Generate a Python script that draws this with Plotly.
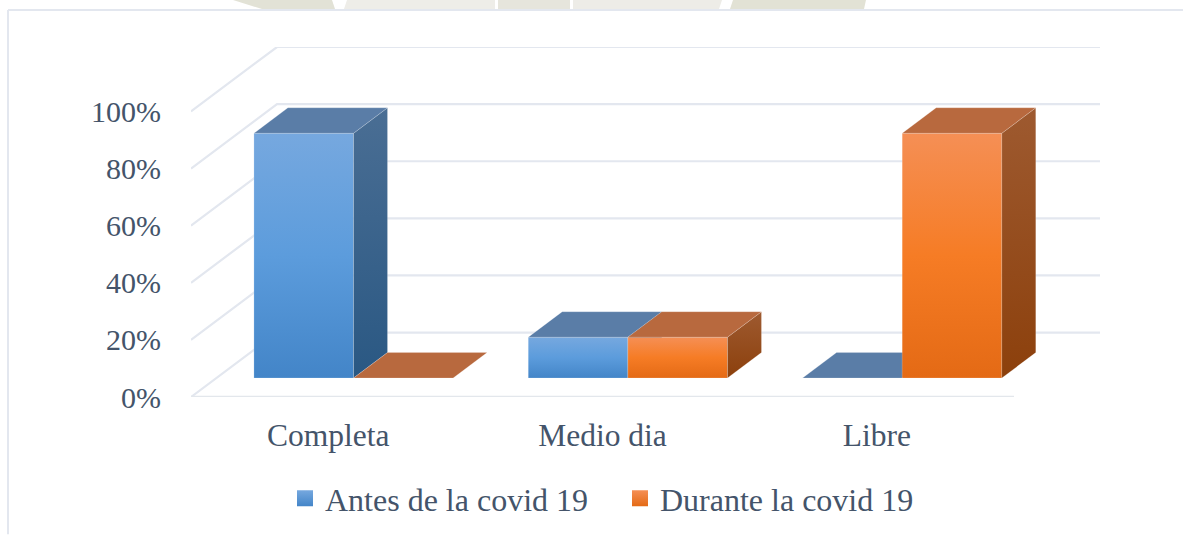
import plotly.graph_objects as go

# ---- data ----
categories = ["Completa", "Medio dia", "Libre"]
antes = [85.7, 14.3, 0]
durante = [0, 14.3, 85.7]
y_ticks = [0, 20, 40, 60, 80, 100]
y_labels = ["0%", "20%", "40%", "60%", "80%", "100%"]
series_names = ["Antes de la covid 19", "Durante la covid 19"]

# ---- styling ----
TEXT = "#44546A"
GRID = "#E3E7EF"
FONT = "Liberation Serif"
W, H = 1183, 535
L, R, T, B = 191, 1100, 47, 397.5
PX_X = 274.3          # px per category
PX_Y = 2.86           # px per percent
DEPTH_X = 86 / PX_X   # oblique offset of the back wall, in axis units
DEPTH_Y = 64.5 / PX_Y
NEAR, FAR = 0.295, 0.69   # bars occupy this slice of the floor depth
BAR_W = 99.6 / PX_X

STYLE = {
    0: dict(front=["#76A8DF", "#5C9CDC", "#4385C8"], top="#5A7DA7",
            side=["#4A6E94", "#2A5883"]),
    1: dict(front=["#F58F55", "#F67C25", "#E46A15"], top="#B8693E",
            side=["#9E5A30", "#8C400C"]),
}


def gradient(colors):
    n = len(colors) - 1
    # plotly's vertical gradient runs from the bottom of the shape up
    return dict(type="vertical",
                colorscale=[[i / n, c] for i, c in enumerate(reversed(colors))])


def face(fig, xs, ys, name, **kw):
    fig.add_trace(go.Scatter(
        x=xs + xs[:1], y=ys + ys[:1], mode="lines", fill="toself", name=name,
        line=dict(width=1, color="rgba(255,255,255,0.18)"),
        hoverinfo="skip", showlegend=False, cliponaxis=False, **kw))


fig = go.Figure()

# oblique walls: gridlines derived from the axis ticks
x_left, x_right = -0.5, len(categories) - 0.5
for v in y_ticks:
    fig.add_trace(go.Scatter(
        x=[x_left, x_left + DEPTH_X, x_right + DEPTH_X],
        y=[v, v + DEPTH_Y, v + DEPTH_Y], mode="lines",
        line=dict(color=GRID, width=2.2), hoverinfo="skip",
        showlegend=False, cliponaxis=False))
fig.add_trace(go.Scatter(
    x=[x_left, x_right], y=[0, 0], mode="lines",
    line=dict(color="#E3E7EC", width=2.6), hoverinfo="skip",
    showlegend=False, cliponaxis=False))

# 3D bars, projected from the values
for s, values in enumerate([antes, durante]):
    st = STYLE[s]
    for i, v in enumerate(values):
        x0 = i + NEAR * DEPTH_X + (s - 1) * BAR_W
        x1 = x0 + BAR_W
        y0 = NEAR * DEPTH_Y
        dx = (FAR - NEAR) * DEPTH_X
        dy = (FAR - NEAR) * DEPTH_Y
        if v > 0:
            face(fig, [x0, x1, x1, x0], [y0, y0, y0 + v, y0 + v],
                 series_names[s], fillgradient=gradient(st["front"]))
            face(fig, [x1, x1 + dx, x1 + dx, x1],
                 [y0, y0 + dy, y0 + dy + v, y0 + v],
                 series_names[s], fillgradient=gradient(st["side"]))
        face(fig, [x0, x1, x1 + dx, x0 + dx],
             [y0 + v, y0 + v, y0 + v + dy, y0 + v + dy],
             series_names[s], fillcolor=st["top"])

# legend entries
for s, name in enumerate(series_names):
    c = STYLE[s]["front"]
    fig.add_trace(go.Scatter(
        x=[None], y=[None], mode="markers", name=name,
        marker=dict(symbol="square", size=17, color=c[0],
                    gradient=dict(type="vertical", color=c[2]))))


# frame of the chart and the background scrap above it
def px(x):
    return (x - L) / (R - L)


def py(y):
    return (B - y) / (B - T)


scraps = [
    ([233, 332, 335, 262], "#E2E2D6"),
    ([347, 495, 495, 344], "#EEEDE8"),
    ([498, 570, 570, 498], "#E6E5DC"),
    ([573, 722, 719, 573], "#EDECE7"),
    ([733, 866, 864, 730], "#E2E2D5"),
]
shapes = [
    dict(type="path", xref="paper", yref="paper", layer="below",
         path=f"M{px(a)},{py(0)} L{px(b)},{py(0)} L{px(c)},{py(9)} L{px(d)},{py(9)} Z",
         fillcolor=col, line=dict(width=0))
    for (a, b, c, d), col in scraps
] + [
    dict(type="line", xref="paper", yref="paper", layer="below",
         x0=px(8), x1=px(1183), y0=py(10), y1=py(10),
         line=dict(color=GRID, width=2)),
    dict(type="line", xref="paper", yref="paper", layer="below",
         x0=px(8), x1=px(8), y0=py(10), y1=py(535),
         line=dict(color=GRID, width=2)),
]

fig.update_layout(
    width=W, height=H, autosize=False,
    paper_bgcolor="white", plot_bgcolor="rgba(0,0,0,0)",
    margin=dict(l=L, r=W - R, t=T, b=H - B, pad=0, autoexpand=False),
    font=dict(family=FONT, color=TEXT),
    shapes=shapes,
    showlegend=True,
    legend=dict(orientation="h", x=px(285), xanchor="left",
                y=py(499), yanchor="middle",
                entrywidth=290, entrywidthmode="pixels",
                font=dict(size=32, family=FONT, color=TEXT),
                bgcolor="rgba(0,0,0,0)", itemclick=False, itemdoubleclick=False),
    xaxis=dict(range=[x_left, x_right + DEPTH_X], tickmode="array",
               tickvals=list(range(len(categories))), ticktext=categories,
               showgrid=False, zeroline=False, showline=False,
               ticks="outside", ticklen=10, tickcolor="rgba(0,0,0,0)",
               tickfont=dict(size=31.5, family=FONT, color=TEXT)),
    yaxis=dict(range=[0, (B - T) / PX_Y], tickmode="array",
               tickvals=y_ticks, ticktext=y_labels,
               showgrid=False, zeroline=False, showline=False,
               ticks="outside", ticklen=23, tickcolor="rgba(0,0,0,0)",
               tickfont=dict(size=30, family=FONT, color=TEXT)),
)

fig.write_html("out.html", config=dict(displayModeBar=False),
               post_script="document.body.style.margin='0';")
